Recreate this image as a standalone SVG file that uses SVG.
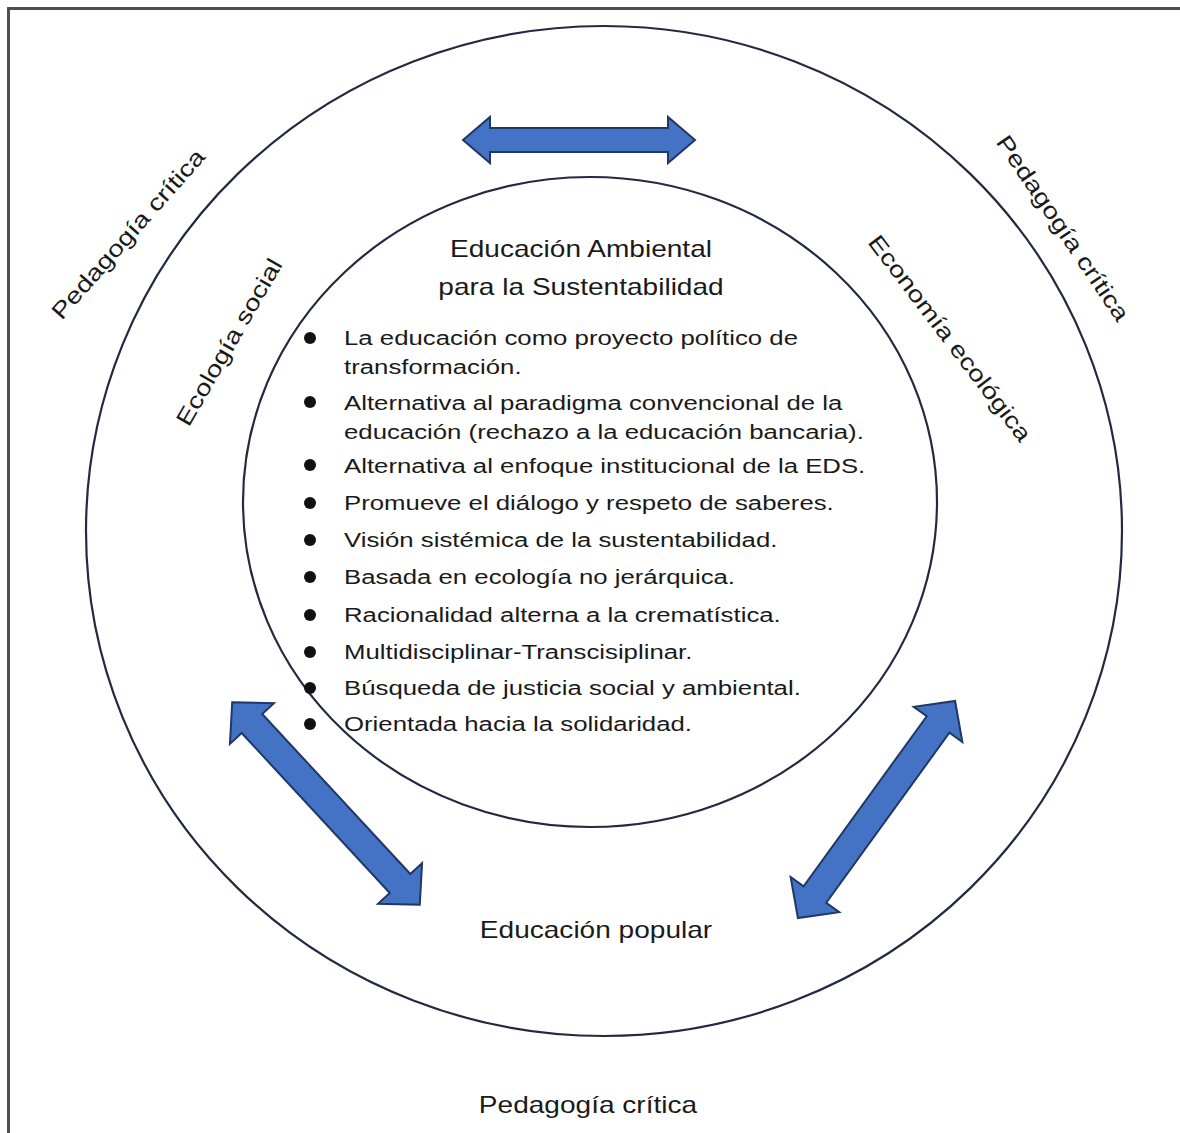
<svg xmlns="http://www.w3.org/2000/svg" width="1180" height="1133" viewBox="0 0 1180 1133">
  <style>
    .ring { fill: none; stroke: #222a40; stroke-width: 2.2; }
    .arrow { fill: #4472c4; stroke: #1f3864; stroke-width: 2; stroke-linejoin: miter; }
    .lbl { font-family: "Liberation Sans", Arial, sans-serif; fill: #1a1a1a; }
    .big { font-size: 23px; }
    .item { font-size: 21px; }
    .dot { fill: #111; }
  </style>

  <rect width="1180" height="1133" fill="#ffffff"/>
  <!-- frame -->
  <path d="M8.5,1133 V8.5 H1180" fill="none" stroke="#4a4f5c" stroke-width="3"/>

  <!-- rings -->
  <g id="outer-ring">
    <ellipse class="ring" cx="604" cy="531" rx="518" ry="505"/>
  </g>
  <g id="inner-ring">
    <ellipse class="ring" cx="590" cy="502" rx="347" ry="325"/>
  </g>

  <!-- connectors -->
  <g id="connectors">
    <polygon class="arrow" transform="translate(579 140)" points="-116,0 -89,-23 -89,-12 89,-12 89,-23 116,0 89,23 89,12 -89,12 -89,23"/>
    <polygon class="arrow" transform="translate(326 803.5) rotate(47.2)" points="-138,0 -109,-30 -109,-14 109,-14 109,-30 138,0 109,30 109,14 -109,14 -109,30"/>
    <polygon class="arrow" transform="translate(876.5 809.5) rotate(-54.1)" points="-134,0 -105,-30 -105,-14 105,-14 105,-30 134,0 105,30 105,14 -105,14 -105,30"/>
  </g>

  <!-- surrounding labels -->
  <g id="pedagogia-left">
    <text class="lbl big" text-anchor="middle" dy="8" transform="translate(128 234) rotate(-48.5) scale(1.22 1)">Pedagogía crítica</text>
  </g>
  <g id="pedagogia-right">
    <text class="lbl big" text-anchor="middle" dy="8" transform="translate(1063 228) rotate(56) scale(1.22 1)">Pedagogía crítica</text>
  </g>
  <g id="pedagogia-bottom">
    <text class="lbl big" text-anchor="middle" transform="translate(588 1113) scale(1.22 1)">Pedagogía crítica</text>
  </g>
  <g id="ecologia-social">
    <text class="lbl big" text-anchor="middle" dy="8" transform="translate(229 342) rotate(-60) scale(1.22 1)">Ecología social</text>
  </g>
  <g id="economia-ecologica">
    <text class="lbl big" text-anchor="middle" dy="8" transform="translate(950 338) rotate(52.7) scale(1.22 1)">Economía ecológica</text>
  </g>
  <g id="educacion-popular">
    <text class="lbl big" text-anchor="middle" transform="translate(596 938) scale(1.22 1)">Educación popular</text>
  </g>

  <!-- central node -->
  <g id="eas">
    <text class="lbl big" text-anchor="middle" transform="translate(581 257) scale(1.22 1)">Educación Ambiental</text>
    <text class="lbl big" text-anchor="middle" transform="translate(581 295) scale(1.22 1)">para la Sustentabilidad</text>

    <g id="bullets">
      <circle class="dot" cx="310" cy="338" r="6"/>
      <circle class="dot" cx="310" cy="402" r="6"/>
      <circle class="dot" cx="310" cy="465" r="6"/>
      <circle class="dot" cx="310" cy="503" r="6"/>
      <circle class="dot" cx="310" cy="540" r="6"/>
      <circle class="dot" cx="310" cy="577" r="6"/>
      <circle class="dot" cx="310" cy="615" r="6"/>
      <circle class="dot" cx="310" cy="652" r="6"/>
      <circle class="dot" cx="310" cy="688" r="6"/>
      <circle class="dot" cx="310" cy="724" r="6"/>
    </g>

    <g class="lbl item" transform="translate(344 0) scale(1.227 1)">
      <text x="0" y="345">La educación como proyecto político de</text>
      <text x="0" y="374">transformación.</text>
      <text x="0" y="410">Alternativa al paradigma convencional de la</text>
      <text x="0" y="439">educación (rechazo a la educación bancaria).</text>
      <text x="0" y="473">Alternativa al enfoque institucional de la EDS.</text>
      <text x="0" y="510">Promueve el diálogo y respeto de saberes.</text>
      <text x="0" y="547">Visión sistémica de la sustentabilidad.</text>
      <text x="0" y="584">Basada en ecología no jerárquica.</text>
      <text x="0" y="622">Racionalidad alterna a la crematística.</text>
      <text x="0" y="659">Multidisciplinar-Transcisiplinar.</text>
      <text x="0" y="695">Búsqueda de justicia social y ambiental.</text>
      <text x="0" y="731">Orientada hacia la solidaridad.</text>
    </g>
  </g>
</svg>
